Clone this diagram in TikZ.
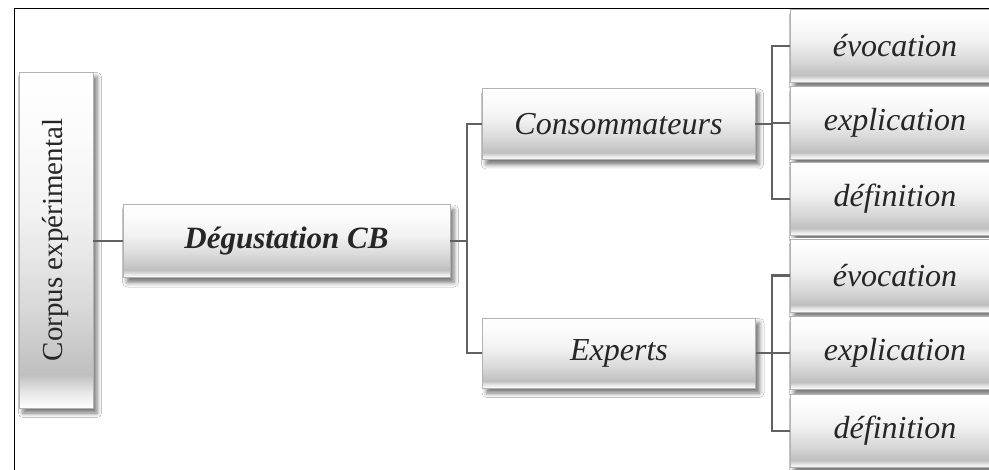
\documentclass[tikz,border=0pt]{standalone}
\usepackage{fontspec}
\setmainfont{Liberation Serif}
\usetikzlibrary{shadows.blur}
\pgfdeclareverticalshading{boxshade}{100bp}{color(0bp)=(white); color(25bp)=(white); color(27.5bp)=(gray!20); color(30bp)=(gray!50); color(40bp)=(gray!30); color(54bp)=(gray!10); color(66bp)=(gray!3); color(75bp)=(white); color(100bp)=(white)}
\begin{document}
\begin{tikzpicture}[x=1pt,y=-1pt,
  box/.style={draw=gray!60, line width=0.6pt, shading=boxshade, inner sep=0pt,
    blur shadow={shadow xshift=4pt, shadow yshift=-5pt, shadow blur radius=4.5pt, shadow opacity=55},
    text=black!85},
  leaf/.style={box, minimum width=210pt, minimum height=73pt, font=\fontsize{32}{32}\selectfont\itshape},
  mid/.style={box, minimum width=273pt, font=\fontsize{32}{32}\selectfont\itshape},
  conn/.style={draw=black!62, line width=2.3pt},
  frame/.style={draw=black, line width=0.7pt}]
\useasboundingbox (0,0) rectangle (989,470);
\fill[white] (0,0) rectangle (989,470);
\coordinate (fa) at (14,470);
\coordinate (fb) at (14,8);
\coordinate (fc) at (989,8);
\draw[frame] (fa) -- (fb) -- (fc);

\node[box, minimum width=74pt, minimum height=336pt, font=\fontsize{29}{29}\selectfont] (corpus) at (56,240) {\rotatebox{90}{Corpus expérimental}};
\node[box, minimum width=327pt, minimum height=73pt, font=\fontsize{31}{31}\selectfont\bfseries\itshape] (deg) at (286.5,241) {Dégustation CB};
\node[mid, minimum height=71pt] (cons) at (618.5,124) {Consommateurs};
\node[mid, minimum height=70pt] (exp) at (619,353) {Experts};

\node[leaf] (e1) at (895,46) {évocation};
\node[leaf] (x1) at (895,123) {explication};
\node[leaf] (d1) at (895,199) {définition};
\node[leaf] (e2) at (895,275.5) {évocation};
\node[leaf] (x2) at (895,353) {explication};
\node[leaf] (d2) at (895,431) {définition};

\coordinate (t1) at (467,0);
\coordinate (t2) at (772,0);

\draw[conn] (deg.west) -- (deg.west -| corpus.east);
\draw[conn] (deg.east) -- (deg.east -| t1);
\draw[conn] (cons.west) -- (cons.west -| t1) -- (exp.west -| t1) -- (exp.west);

\draw[conn] (cons.east) -- (cons.east -| t2);
\draw[conn] (e1.west) -- (e1.west -| t2) -- (d1.west -| t2) -- (d1.west);
\draw[conn] (x1.west) -- (x1.west -| t2);

\draw[conn] (exp.east) -- (exp.east -| t2);
\draw[conn] (e2.west) -- (e2.west -| t2) -- (d2.west -| t2) -- (d2.west);
\draw[conn] (x2.west) -- (x2.west -| t2);
\end{tikzpicture}
\end{document}
